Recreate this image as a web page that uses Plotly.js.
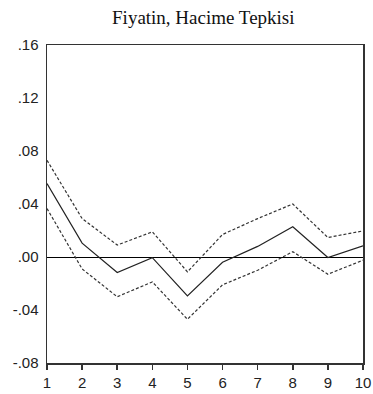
<!DOCTYPE html>
<html>
<head>
<meta charset="utf-8">
<script src="https://cdn.plot.ly/plotly-3.0.1.min.js"></script>
<style>html,body{margin:0;padding:0;background:#fff;}#chart{width:373px;height:394px;}</style>
</head>
<body>
<div id="chart"></div>
<script>
var periods = [1, 2, 3, 4, 5, 6, 7, 8, 9, 10];
var response = [0.0555, 0.0105, -0.0117, -0.0005, -0.0294, -0.0040, 0.0080, 0.0228, -0.0004, 0.0084];
var upperBand = [0.073, 0.029, 0.009, 0.019, -0.0112, 0.017, 0.029, 0.040, 0.0147, 0.0197];
var lowerBand = [0.0366, -0.009, -0.030, -0.0188, -0.047, -0.021, -0.010, 0.004, -0.013, -0.0024];
var yTickVals = [-0.08, -0.04, 0, 0.04, 0.08, 0.12, 0.16];
var yTickText = ['-.08', '-.04', '.00', '.04', '.08', '.12', '.16'];
var xTickText = ['1', '2', '3', '4', '5', '6', '7', '8', '9', '10'];
var titleText = 'Fiyatin, Hacime Tepkisi';

var traces = [
  {x: periods, y: upperBand, mode: 'lines', line: {color: '#333', width: 1.2, dash: '3px,2px'}, hoverinfo: 'skip'},
  {x: periods, y: lowerBand, mode: 'lines', line: {color: '#333', width: 1.2, dash: '3px,2px'}, hoverinfo: 'skip'},
  {x: periods, y: response, mode: 'lines', line: {color: '#222', width: 1.2}, hoverinfo: 'skip'}
];

var layout = {
  width: 373, height: 394,
  margin: {l: 47, r: 10, t: 45, b: 31},
  paper_bgcolor: '#fff', plot_bgcolor: '#fff',
  showlegend: false,
  title: {text: titleText, font: {family: 'Liberation Serif, Times New Roman, serif', size: 19, color: '#111'},
          x: 0.545, xanchor: 'center', y: 0.955, yanchor: 'middle'},
  xaxis: {range: [1, 10], tickvals: periods, ticktext: xTickText, ticks: 'outside', ticklen: 5, tickwidth: 1.5,
          tickcolor: '#333', showgrid: false, zeroline: false, showline: true, mirror: true, linecolor: '#333',
          linewidth: 1.5, tickfont: {family: 'Liberation Sans, Arial, sans-serif', size: 15, color: '#222'}},
  yaxis: {range: [-0.08, 0.16], tickvals: yTickVals, ticktext: yTickText, ticks: '', showgrid: false,
          zeroline: true, zerolinecolor: '#000', zerolinewidth: 1, showline: true, mirror: true,
          linecolor: '#333', linewidth: 1.5, ticklabelstandoff: 4,
          tickfont: {family: 'Liberation Sans, Arial, sans-serif', size: 15, color: '#222'}}
};

Plotly.newPlot('chart', traces, layout, {displayModeBar: false, staticPlot: true});
</script>
</body>
</html>
